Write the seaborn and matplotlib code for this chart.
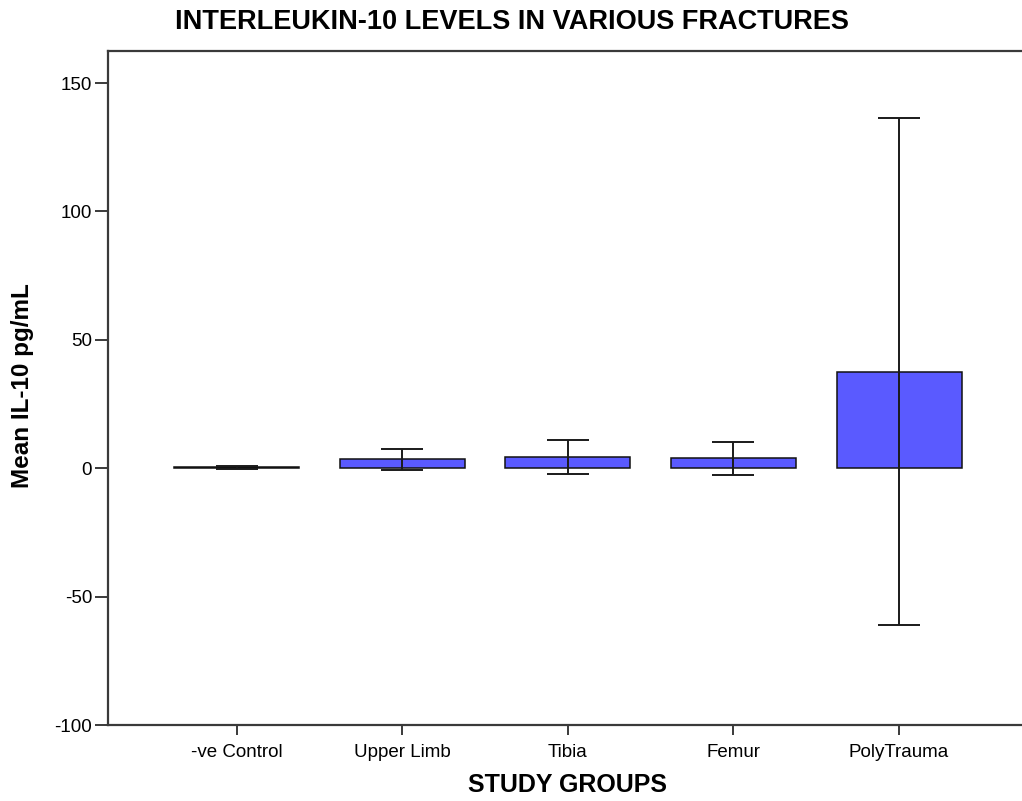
import numpy as np
import pandas as pd
import seaborn as sns
import matplotlib.pyplot as plt

groups = ['-ve Control', 'Upper Limb', 'Tibia', 'Femur', 'PolyTrauma']
mean_il10 = [0.4, 3.6, 4.5, 3.9, 37.6]
ci_upper = [1.0, 7.5, 11.1, 10.4, 136.3]
ci_lower = [-0.2, -0.5, -2.2, -2.6, -61.0]
y_ticks = [-100, -50, 0, 50, 100, 150]

df = pd.DataFrame({'Group': groups, 'Mean': mean_il10,
                   'Upper': ci_upper, 'Lower': ci_lower})

sns.set_style("white")
plt.rcParams['font.family'] = ['Liberation Sans', 'DejaVu Sans']
plt.rcParams['axes.unicode_minus'] = False
plt.rcParams['text.color'] = 'black'
plt.rcParams['axes.labelcolor'] = 'black'
plt.rcParams['xtick.color'] = 'black'
plt.rcParams['ytick.color'] = 'black'

W, H = 1022, 801
fig = plt.figure(figsize=(W / 100, H / 100), dpi=100)
ax = fig.add_axes([108 / W, 1 - 725 / H, (W - 108) / W, (725 - 51) / H])

sns.barplot(data=df, x='Group', y='Mean', color='#5a5aff', saturation=1,
            width=0.755, edgecolor='#111111', linewidth=1.1, errorbar=None, ax=ax)

yerr = [df['Mean'] - df['Lower'], df['Upper'] - df['Mean']]
ax.errorbar(np.arange(len(df)), df['Mean'], yerr=yerr, fmt='none',
            ecolor='#1a1a1a', elinewidth=1.4, capsize=14.8, capthick=1.4)

ax.set_xlim(-0.779, 4.743)
ax.set_ylim(-100, 162.5)
ax.set_yticks(y_ticks)

for side in ['left', 'bottom', 'top']:
    ax.spines[side].set_color('#3a3a3a')
    ax.spines[side].set_linewidth(1.6)
ax.spines['right'].set_visible(False)

ax.tick_params(axis='y', direction='out', length=9.5, width=1.4, color='#3a3a3a',
               pad=2, labelsize=13.5, left=True)
ax.tick_params(axis='x', direction='out', length=7.5, width=1.4, color='#3a3a3a',
               pad=6, labelsize=13.5, bottom=True)

ax.set_xlabel('STUDY GROUPS', fontsize=18, fontweight='bold', va='center')
ax.xaxis.set_label_coords((568 - 108) / 914, -(785 - 725) / 674)
ax.set_ylabel('Mean IL-10 pg/mL', fontsize=17.5, fontweight='bold', va='center')
ax.yaxis.set_label_coords((23 - 108) / 914, (725 - 386) / 674)

fig.text(512 / W, 1 - 22 / H, 'INTERLEUKIN-10 LEVELS IN VARIOUS FRACTURES',
         ha='center', va='center', fontsize=19.5, fontweight='bold')

fig.savefig('out.png', dpi=100)
